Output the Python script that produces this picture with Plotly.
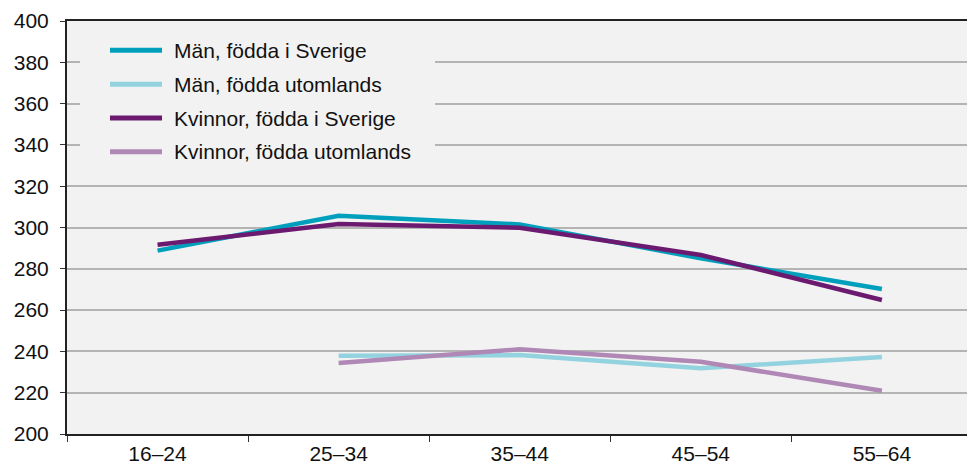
import plotly.graph_objects as go

categories = ["16–24", "25–34", "35–44", "45–54", "55–64"]
series_names = ["Män, födda i Sverige", "Män, födda utomlands",
                "Kvinnor, födda i Sverige", "Kvinnor, födda utomlands"]
man_sverige = [288.8, 305.7, 301.5, 285.1, 270.2]
man_utomlands = [None, 237.9, 238.2, 231.8, 237.3]
kvinnor_sverige = [291.6, 301.7, 299.9, 286.7, 264.9]
kvinnor_utomlands = [None, 234.4, 241.0, 235.0, 220.9]
y_ticks = [200, 220, 240, 260, 280, 300, 320, 340, 360, 380, 400]

series_values = [man_sverige, man_utomlands, kvinnor_sverige, kvinnor_utomlands]
colors = ["#00a0bd", "#93d3e0", "#6c1a70", "#b088b5"]

FONT = "Liberation Sans, Arial, sans-serif"
FS = 21
TXT = "#111111"

fig = go.Figure()
for name, vals, col in zip(series_names, series_values, colors):
    fig.add_trace(go.Scatter(
        x=categories, y=vals, name=name, mode="lines",
        line=dict(color=col, width=4.5), connectgaps=False, showlegend=False,
        hoverinfo="x+y+name",
    ))

W, H = 967, 465
L, T, B, R = 67, 21, 29, 0
pw, ph = W - L - R, H - T - B

def px_x(x):
    return (x - L) / pw

def px_y(y):
    return (H - B - y) / ph

shapes = [
    dict(type="rect", xref="paper", yref="paper",
         x0=px_x(80), x1=px_x(435), y0=px_y(172), y1=1.0,
         fillcolor="#f2f2f2", line=dict(width=0), layer="above"),
]
annotations = []
legend_y = [50.5, 84.5, 118.5, 152.5]
for name, col, yy in zip(series_names, colors, legend_y):
    shapes.append(dict(type="line", xref="paper", yref="paper",
                       x0=px_x(110), x1=px_x(162), y0=px_y(yy), y1=px_y(yy),
                       line=dict(color=col, width=5), layer="above"))
    annotations.append(dict(xref="paper", yref="paper", x=px_x(172), y=px_y(yy),
                            text=name, showarrow=False, xanchor="left", yanchor="middle",
                            font=dict(family=FONT, size=FS, color=TXT)))

fig.update_layout(
    width=W, height=H,
    margin=dict(l=L, r=R, t=T, b=B, pad=0),
    paper_bgcolor="white",
    plot_bgcolor="#f2f2f2",
    font=dict(family=FONT, size=FS, color=TXT),
    shapes=shapes,
    annotations=annotations,
    showlegend=False,
)
fig.update_xaxes(
    type="category", categoryorder="array", categoryarray=categories,
    range=[-0.5, 4.47], showgrid=False, tickson="boundaries",
    ticks="outside", ticklen=6, tickcolor="#333333", tickwidth=1,
    showline=True, linecolor="#222222", linewidth=2, mirror=True,
    tickfont=dict(family=FONT, size=FS, color=TXT),
    ticklabelstandoff=0,
    fixedrange=True,
)
fig.update_yaxes(
    range=[200, 400], tickvals=y_ticks, ticktext=[str(v) for v in y_ticks],
    showgrid=True, gridcolor="#b4b4b4", gridwidth=1.5,
    ticks="outside", ticklen=5, tickcolor="#333333", tickwidth=1,
    showline=True, linecolor="#222222", linewidth=2,
    zeroline=False, ticklabelstandoff=7,
    tickfont=dict(family=FONT, size=FS, color=TXT),
    fixedrange=True,
)

fig.write_html("out.html", config={"displayModeBar": False},
               post_script="document.body.style.margin='0';")
